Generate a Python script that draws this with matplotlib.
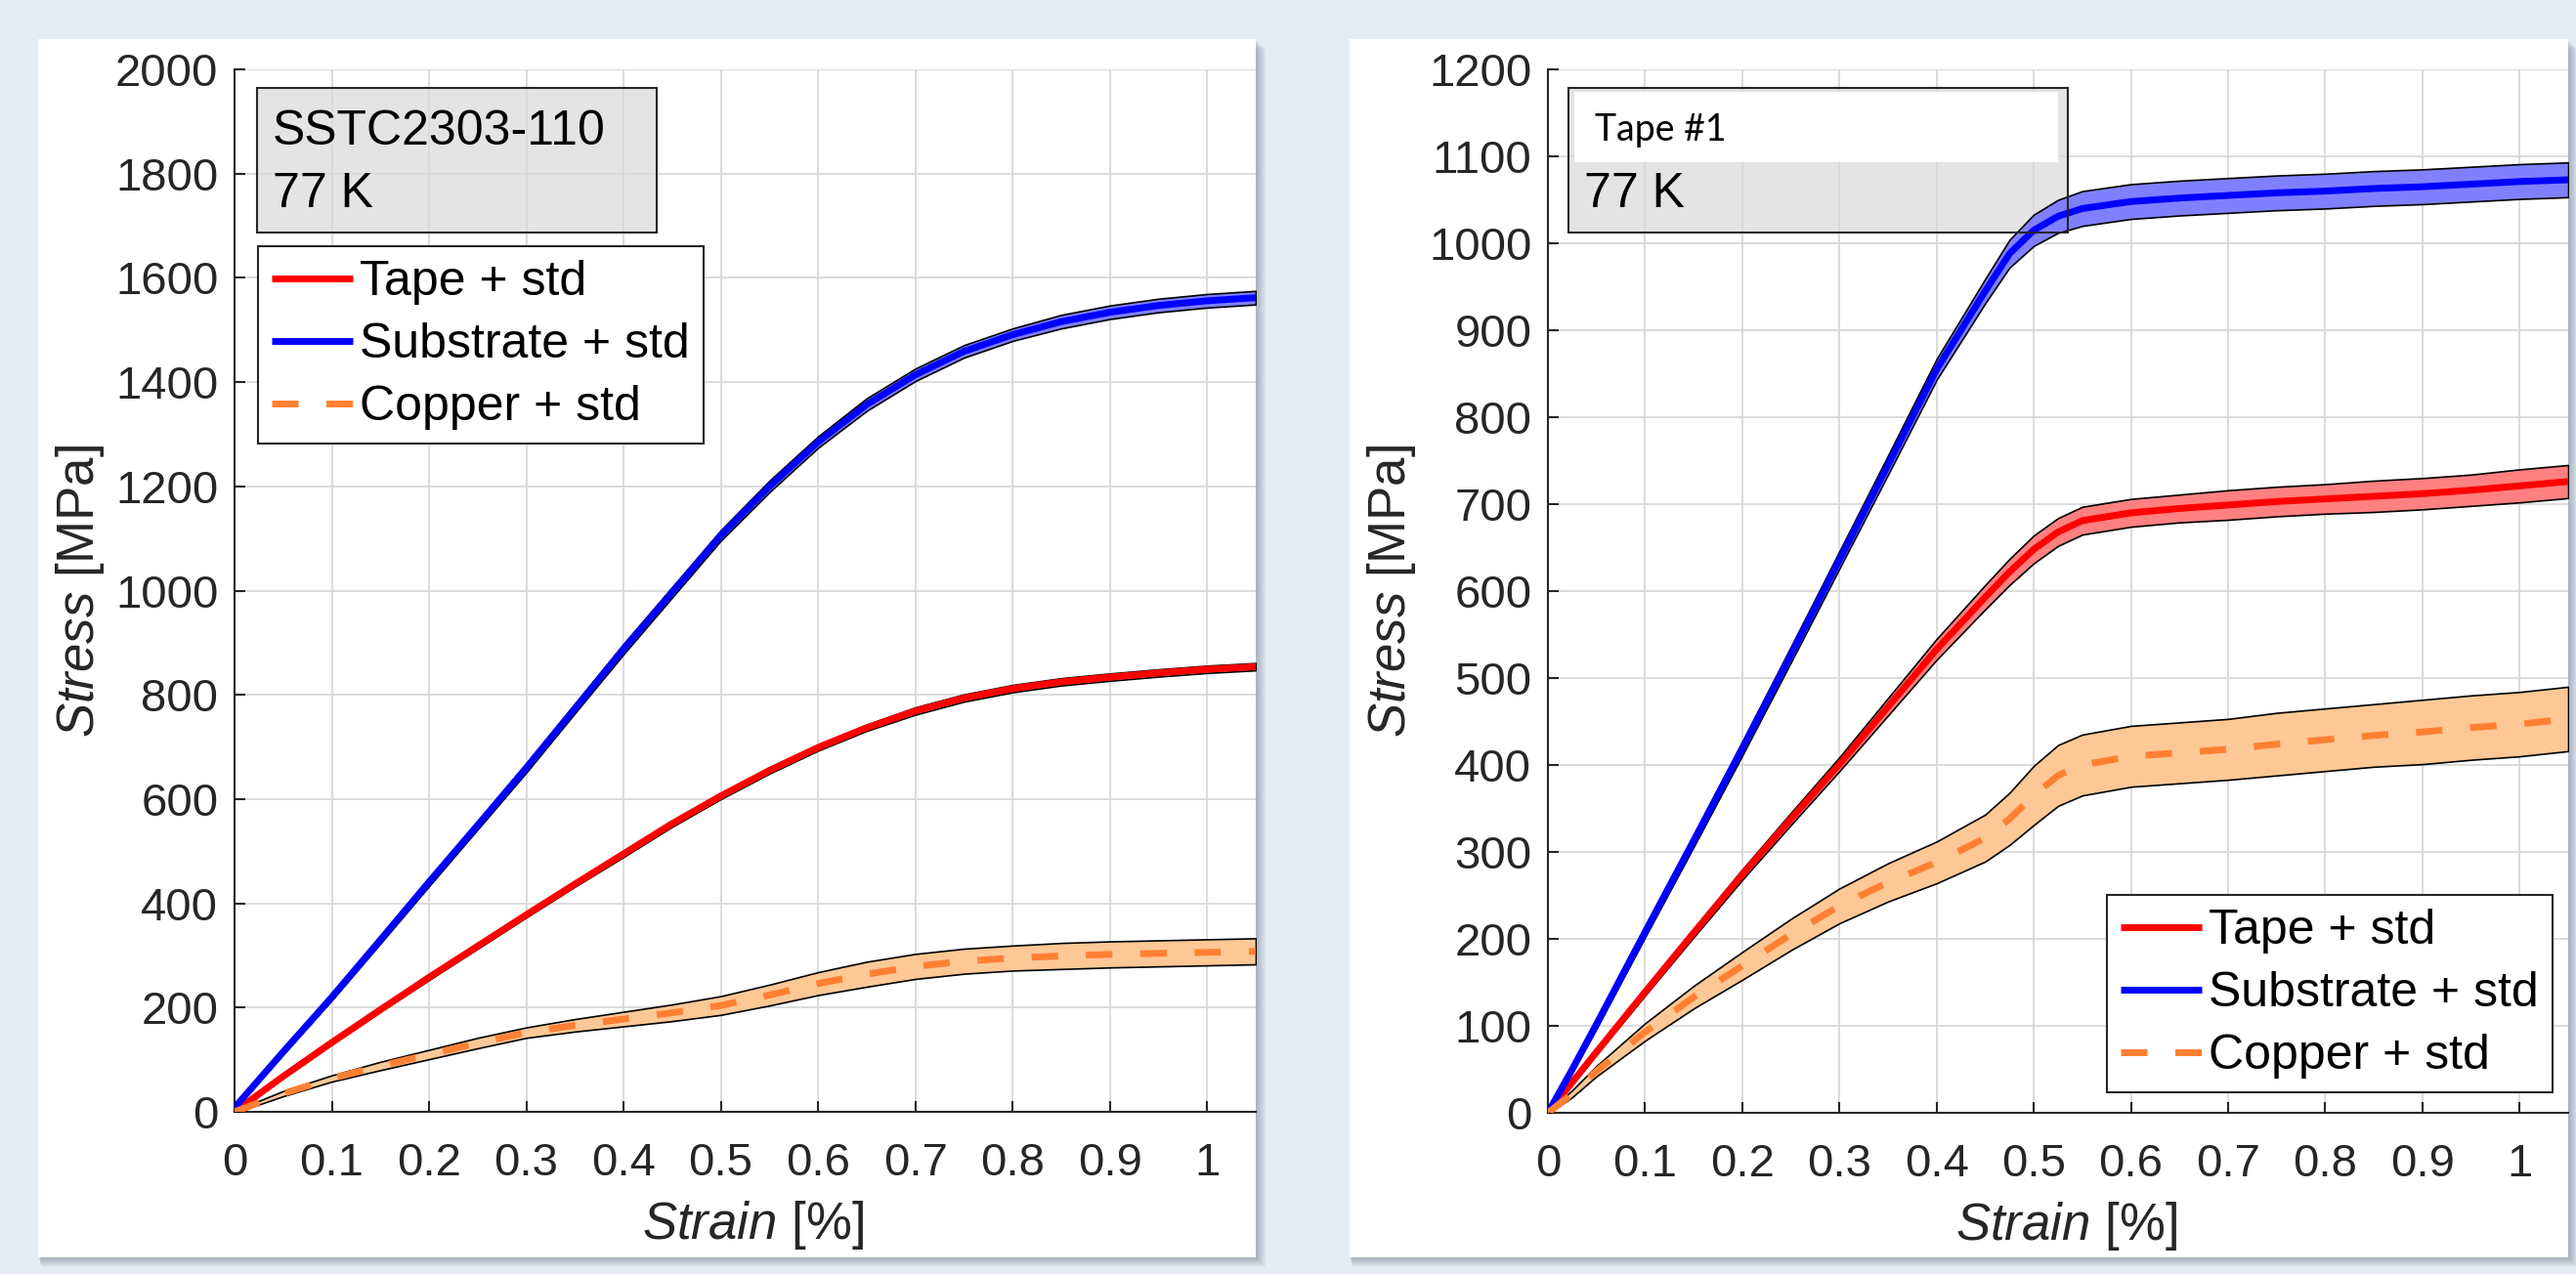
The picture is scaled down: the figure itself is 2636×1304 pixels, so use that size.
import numpy as np
import matplotlib
matplotlib.use("Agg")
import matplotlib.pyplot as plt
from matplotlib.patches import Rectangle

# ---------------- data ----------------
strain_L = [0, 0.05, 0.1, 0.15, 0.2, 0.25, 0.3, 0.35, 0.4, 0.45, 0.5, 0.55,
            0.6, 0.65, 0.7, 0.75, 0.8, 0.85, 0.9, 0.95, 1.0, 1.05]
tape_L = [0, 68, 133, 196, 258, 318, 378, 437, 495, 553, 606, 655,
          699, 737, 769, 794, 812, 825, 834, 842, 849, 854]
tape_std_L = [2, 3, 4, 4, 5, 5, 5, 5, 6, 6, 6, 6, 6, 6, 7, 7, 7, 7, 7, 7, 7, 7]
substrate_L = [8, 115, 220, 330, 441, 550, 660, 774, 888, 997, 1106, 1200,
               1285, 1357, 1414, 1459, 1491, 1516, 1534, 1547, 1556, 1562]
substrate_std_L = [3, 5, 6, 7, 8, 8, 9, 9, 10, 10, 10, 11, 11, 12, 12, 12, 12, 13, 13, 13, 13, 13]
copper_L = [0, 35, 64, 88, 110, 132, 152, 166, 178, 190, 204, 224,
            246, 264, 279, 289, 295, 299, 302, 304, 306, 308]
copper_std_L = [2, 5, 6, 8, 9, 10, 10, 12, 14, 16, 18, 20, 22, 24, 24, 24, 24, 25, 25, 25, 25, 25]

strain_R = [0, 0.025, 0.05, 0.1, 0.15, 0.2, 0.25, 0.3, 0.35, 0.4, 0.45, 0.475, 0.5,
            0.525, 0.55, 0.6, 0.65, 0.7, 0.75, 0.8, 0.85, 0.9, 0.95, 1.0, 1.05]
tape_R = [0, 35, 70, 139, 207, 274, 338, 401, 467, 533, 593, 622, 648,
          668, 681, 690, 695, 699, 703, 706, 709, 712, 716, 721, 726]
tape_std_R = [1, 2, 3, 4, 5, 6, 7, 8, 10, 12, 14, 15, 16, 16, 16, 16, 16, 17, 17, 17, 18, 18, 18, 19, 19]
substrate_R = [0, 50, 102, 208, 313, 419, 527, 636, 745, 855, 945, 988, 1015,
               1031, 1040, 1048, 1052, 1055, 1058, 1060, 1063, 1065, 1068, 1071, 1073]
substrate_std_R = [2, 4, 5, 6, 7, 8, 9, 10, 11, 12, 14, 16, 18, 19, 20, 20, 20, 20, 20, 20, 20, 20, 20, 20, 20]
copper_R = [0, 22, 48, 93, 133, 169, 205, 238, 265, 288, 316, 338, 365,
            388, 400, 410, 414, 418, 424, 429, 434, 438, 443, 447, 453]
copper_std_R = [1, 4, 6, 10, 13, 16, 18, 20, 22, 24, 27, 30, 34, 35, 35, 35, 35, 35, 36, 36, 36, 37, 37, 37, 37]

labels = ["Tape + std", "Substrate + std", "Copper + std"]
xticks = [0, 0.1, 0.2, 0.3, 0.4, 0.5, 0.6, 0.7, 0.8, 0.9, 1.0]
xticklabels = ["0", "0.1", "0.2", "0.3", "0.4", "0.5", "0.6", "0.7", "0.8", "0.9", "1"]
yticks_L = list(range(0, 2001, 200))
yticks_R = list(range(0, 1201, 100))

# ---------------- style ----------------
W, H = 2636, 1304
plt.rcParams["font.family"] = ["Liberation Sans", "DejaVu Sans"]
plt.rcParams["mathtext.fontset"] = "custom"
plt.rcParams["mathtext.rm"] = "Liberation Sans"
plt.rcParams["mathtext.it"] = "Liberation Sans:italic"

BG = "#e5ecf6"
AX = "#262626"
GRID = "#d9d9d9"
C_TAPE, F_TAPE = "#ff0000", "#ff8080"
C_SUB, F_SUB = "#0000ff", "#8080ff"
C_CU, F_CU = "#ff8033", "#fdc896"

fig = plt.figure(figsize=(W / 100, H / 100), dpi=100, facecolor=BG)


def fx(x):
    return x / W


def fy(y):
    return 1 - y / H


def frect(x0, y0, x1, y1, **kw):
    return Rectangle((fx(x0), fy(y1)), (x1 - x0) / W, (y1 - y0) / H, transform=fig.transFigure, **kw)


# cards with drop shadow
for (x0, y0, x1, y1) in [(39, 40, 1285, 1287), (1381, 40, 2628, 1287)]:
    for d in range(10, 0, -1):
        fig.add_artist(frect(x0 + d * 0.3, y0 + d, x1 + d, y1 + d,
                             facecolor="#4a5468", edgecolor="none", alpha=0.045, zorder=-5))
    fig.add_artist(frect(x0, y0, x1, y1, facecolor="white", edgecolor="none", zorder=-4))


def make_axes(x0, x1, ytop, ybot):
    ax = fig.add_axes([fx(x0), fy(ybot), (x1 - x0) / W, (ybot - ytop) / H])
    ax.set_facecolor("none")
    for s in ["top", "right"]:
        ax.spines[s].set_visible(False)
    for s in ["left", "bottom"]:
        ax.spines[s].set_color(AX)
        ax.spines[s].set_linewidth(1.5)
    ax.set_axisbelow(True)
    ax.grid(True, color=GRID, linewidth=1.3)
    ax.tick_params(direction="in", length=8, width=1.5, color=AX, labelcolor=AX, labelsize=34)
    ax.tick_params(axis="x", pad=22)
    ax.tick_params(axis="y", pad=12)
    ax.set_xlim(0, 1.05)
    ax.set_xticks(xticks)
    ax.set_xticklabels(xticklabels)
    ax.set_xlabel(r"$\mathit{Strain}$ [%]", fontsize=38, color=AX)
    ax.xaxis.set_label_coords(0.508, -0.083)
    ax.set_ylabel(r"$\mathit{Stress}$ [MPa]", fontsize=38, color=AX)
    return ax


def draw_series(ax, x, y, s, color, fill, ls, z):
    x = np.asarray(x, float)
    y = np.asarray(y, float)
    s = np.asarray(s, float)
    ax.fill_between(x, y - s, y + s, facecolor=fill, edgecolor="black", linewidth=1.2, zorder=z)
    if ls == "dash":
        line, = ax.plot(x, y, color=color, linewidth=5, dashes=(3.9, 4.1), zorder=z + 0.1)
    else:
        line, = ax.plot(x, y, color=color, linewidth=5, solid_capstyle="butt", zorder=z + 0.1)
    return line


def add_legend(ax, handles, ax_x, ax_y):
    leg = fig.legend(handles, labels, loc="upper left", bbox_to_anchor=(fx(ax_x), fy(ax_y)),
                     bbox_transform=fig.transFigure, fontsize=36, frameon=True, fancybox=False,
                     framealpha=1, edgecolor=AX, handlelength=1.65, handletextpad=0.15,
                     borderpad=0.28, labelspacing=0.36, borderaxespad=0)
    leg.get_frame().set_linewidth(1.5)
    leg.set_zorder(20)
    return leg


# ---------------- left panel ----------------
axL = make_axes(240, 1285, 71, 1138)
axL.set_ylim(0, 2000)
axL.set_yticks(yticks_L)
axL.yaxis.set_label_coords(-0.125, 0.5)
hL = [draw_series(axL, strain_L, tape_L, tape_std_L, C_TAPE, F_TAPE, "solid", 2),
      draw_series(axL, strain_L, substrate_L, substrate_std_L, C_SUB, F_SUB, "solid", 3),
      draw_series(axL, strain_L, copper_L, copper_std_L, C_CU, F_CU, "dash", 4)]
add_legend(axL, hL, 264, 252)

axL.add_patch(frect(263, 90, 672, 238, facecolor="#e0e0e0", alpha=0.85, edgecolor="none", zorder=0.4, clip_on=False))
axL.add_patch(frect(263, 90, 672, 238, facecolor="none", edgecolor=AX, linewidth=1.5, zorder=10, clip_on=False))
fig.text(fx(279), fy(148), "SSTC2303-110", fontsize=36, color="black", va="baseline", ha="left", zorder=30)
fig.text(fx(279), fy(212), "77 K", fontsize=36, color="black", va="baseline", ha="left", zorder=30)

# ---------------- right panel ----------------
axR = make_axes(1584, 2628, 71, 1139)
axR.set_ylim(0, 1200)
axR.set_yticks(yticks_R)
axR.yaxis.set_label_coords(-0.127, 0.5)
hR = [draw_series(axR, strain_R, tape_R, tape_std_R, C_TAPE, F_TAPE, "solid", 2),
      draw_series(axR, strain_R, substrate_R, substrate_std_R, C_SUB, F_SUB, "solid", 3),
      draw_series(axR, strain_R, copper_R, copper_std_R, C_CU, F_CU, "dash", 4)]
add_legend(axR, hR, 2156, 916)

axR.add_patch(frect(1605, 90, 2116, 238, facecolor="#e0e0e0", alpha=0.85, edgecolor="none", zorder=0.4, clip_on=False))
axR.add_patch(frect(1611, 94, 2106, 166, facecolor="white", edgecolor="none", zorder=0.6, clip_on=False))
axR.add_patch(frect(1605, 90, 2116, 238, facecolor="none", edgecolor=AX, linewidth=1.5, zorder=10, clip_on=False))
fig.text(fx(1632), fy(144), "Tape #1", fontsize=27, family=["Lato", "DejaVu Sans"], color="black",
         va="baseline", ha="left", zorder=30)
fig.text(fx(1621), fy(212), "77 K", fontsize=36, color="black", va="baseline", ha="left", zorder=30)

fig.savefig("out.png", dpi=100, facecolor=BG)
